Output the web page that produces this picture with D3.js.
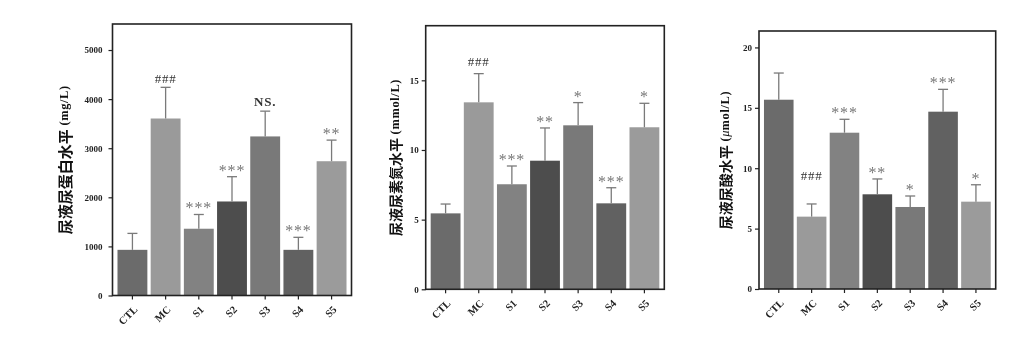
<!DOCTYPE html>
<html>
<head>
<meta charset="utf-8">
<script src="https://cdn.jsdelivr.net/npm/d3@7"></script>
<style>
  html, body { margin: 0; padding: 0; background: #fff; }
  svg { display: block; will-change: transform; }
  .tick text { font-family: "Liberation Serif", "Times New Roman", serif; font-weight: bold; fill: #222; }
</style>
</head>
<body>
<svg id="chart" width="1031" height="343"></svg>
<script>
// Groups shared by all three panels
const groups = ["CTL", "MC", "S1", "S2", "S3", "S4", "S5"];
const barColors = ["#6b6b6b", "#9a9a9a", "#828282", "#4d4d4d", "#797979", "#616161", "#9b9b9b"];

// Urinary protein (mg/L)
const proteinMean = [930, 3605, 1360, 1915, 3240, 930, 2735];
const proteinSD   = [335, 635, 290, 505, 515, 255, 430];
const proteinMarks = ["", "###", "***", "***", "NS.", "***", "**"];
const proteinTicks = [0, 1000, 2000, 3000, 4000, 5000];

// Urinary urea nitrogen (mmol/L)
const ureaMean = [5.45, 13.42, 7.54, 9.23, 11.77, 6.17, 11.63];
const ureaSD   = [0.67, 2.06, 1.31, 2.35, 1.63, 1.12, 1.72];
const ureaMarks = ["", "###", "***", "**", "*", "***", "*"];
const ureaTicks = [0, 5, 10, 15];

// Urinary uric acid (umol/L)
const uricMean = [15.67, 5.99, 12.94, 7.84, 6.79, 14.68, 7.23];
const uricSD   = [2.21, 1.05, 1.11, 1.27, 0.91, 1.85, 1.40];
const uricMarks = ["", "###", "***", "**", "*", "***", "*"];
const uricTicks = [0, 5, 10, 15, 20];

const svg = d3.select("#chart");

const panels = [
  { mean: proteinMean, sd: proteinSD, marks: proteinMarks, ticks: proteinTicks,
    yMax: 5530, left: 112.5, right: 351.5, top: 24, bottom: 295.5, labelX: 64,
    tickPad: 6, hashGap: 4, zhSize: 15,
    zh: "尿液尿蛋白水平", unit: "(mg/L)", italicMu: false },
  { mean: ureaMean, sd: ureaSD, marks: ureaMarks, ticks: ureaTicks,
    yMax: 18.92, left: 425.7, right: 664.3, top: 25.7, bottom: 289.3, labelX: 395,
    tickPad: 3, hashGap: 8, zhSize: 14,
    zh: "尿液尿素氮水平", unit: "(mmol/L)", italicMu: false },
  { mean: uricMean, sd: uricSD, marks: uricMarks, ticks: uricTicks,
    yMax: 21.36, left: 759, right: 995.7, top: 31, bottom: 289, labelX: 725,
    tickPad: 3, hashGap: 24, zhSize: 14,
    zh: "尿液尿酸水平", unit: "mol/L)", italicMu: true }
];

panels.forEach(p => {
  const g = svg.append("g");

  const x = d3.scaleBand()
    .domain(groups)
    .range([p.left + 3, p.right - 3])
    .paddingInner(0.1)
    .paddingOuter(0.06);

  const y = d3.scaleLinear()
    .domain([0, p.yMax])
    .range([p.bottom, p.top]);

  const rows = groups.map((k, i) => ({
    key: k, mean: p.mean[i], sd: p.sd[i], mark: p.marks[i], color: barColors[i]
  }));

  // bars
  g.selectAll("rect.bar").data(rows).join("rect")
    .attr("class", "bar")
    .attr("x", d => x(d.key))
    .attr("width", x.bandwidth())
    .attr("y", d => y(d.mean))
    .attr("height", d => y(0) - y(d.mean))
    .attr("fill", d => d.color);

  // upper error bars with caps
  const eb = g.selectAll("g.err").data(rows).join("g").attr("class", "err")
    .attr("stroke", "#7a7a7a").attr("stroke-width", 1.3);
  eb.append("line")
    .attr("x1", d => x(d.key) + x.bandwidth() / 2)
    .attr("x2", d => x(d.key) + x.bandwidth() / 2)
    .attr("y1", d => y(d.mean))
    .attr("y2", d => y(d.mean + d.sd));
  eb.append("line")
    .attr("x1", d => x(d.key) + x.bandwidth() / 2 - 5)
    .attr("x2", d => x(d.key) + x.bandwidth() / 2 + 5)
    .attr("y1", d => y(d.mean + d.sd))
    .attr("y2", d => y(d.mean + d.sd));

  // significance marks
  const isStar = m => m.startsWith("*");
  g.selectAll("text.sig").data(rows.filter(d => d.mark)).join("text")
    .attr("class", "sig")
    .attr("x", d => x(d.key) + x.bandwidth() / 2)
    .attr("y", d => {
      const top = y(d.mean + d.sd);
      if (isStar(d.mark)) return top - 1;
      if (d.mark === "###") return top - p.hashGap;
      return top - 5;
    })
    .attr("text-anchor", "middle")
    .attr("font-family", "Liberation Serif, Times New Roman, serif")
    .attr("font-size", d => isStar(d.mark) ? 16 : 13)
    .attr("font-weight", d => d.mark === "NS." ? "bold" : "normal")
    .attr("letter-spacing", d => isStar(d.mark) ? 0.8 : 0.8)
    .attr("fill", d => isStar(d.mark) ? "#777" : "#333")
    .text(d => d.mark);

  // frame
  g.append("rect")
    .attr("x", p.left).attr("y", p.top)
    .attr("width", p.right - p.left).attr("height", p.bottom - p.top)
    .attr("fill", "none").attr("stroke", "#222").attr("stroke-width", 1.6);

  // y axis
  const ya = g.append("g")
    .attr("transform", `translate(${p.left},0)`)
    .call(d3.axisLeft(y).tickValues(p.ticks).tickFormat(d3.format("d"))
      .tickSize(4).tickPadding(p.tickPad));
  ya.select(".domain").remove();
  ya.selectAll(".tick line").attr("stroke", "#222").attr("stroke-width", 1.2);
  ya.selectAll(".tick text").attr("font-size", 9);

  // x axis
  const xa = g.append("g")
    .attr("transform", `translate(0,${p.bottom})`)
    .call(d3.axisBottom(x).tickSize(4).tickPadding(3));
  xa.select(".domain").remove();
  xa.selectAll(".tick line").attr("stroke", "#222").attr("stroke-width", 1.2);
  xa.selectAll(".tick text")
    .attr("font-size", 10.5)
    .attr("text-anchor", "end")
    .attr("dy", "0.5em")
    .attr("transform", "translate(-3,6) rotate(-45)");

  // y axis title
  const cy = (p.top + p.bottom) / 2;
  const t = g.append("text")
    .attr("transform", `translate(${p.labelX},${cy}) rotate(-90)`)
    .attr("text-anchor", "middle")
    .attr("dominant-baseline", "central")
    .attr("fill", "#111");
  t.append("tspan")
    .attr("font-family", "Noto Sans CJK SC, sans-serif")
    .attr("font-weight", "bold")
    .attr("font-size", p.zhSize)
    .text(p.zh);
  if (p.italicMu) {
    t.append("tspan")
      .attr("font-family", "Liberation Serif, serif").attr("font-weight", "bold")
      .attr("font-size", 12.5).attr("letter-spacing", 0.6).text(" (");
    t.append("tspan")
      .attr("font-family", "Liberation Serif, serif").attr("font-style", "italic")
      .attr("font-size", 12.5).text("μ");
    t.append("tspan")
      .attr("font-family", "Liberation Serif, serif").attr("font-weight", "bold")
      .attr("font-size", 12.5).attr("letter-spacing", 0.6).text(p.unit);
  } else {
    t.append("tspan")
      .attr("font-family", "Liberation Serif, serif").attr("font-weight", "bold")
      .attr("font-size", 12.5).attr("letter-spacing", 0.6)
      .text(" " + p.unit);
  }
});
</script>
</body>
</html>
